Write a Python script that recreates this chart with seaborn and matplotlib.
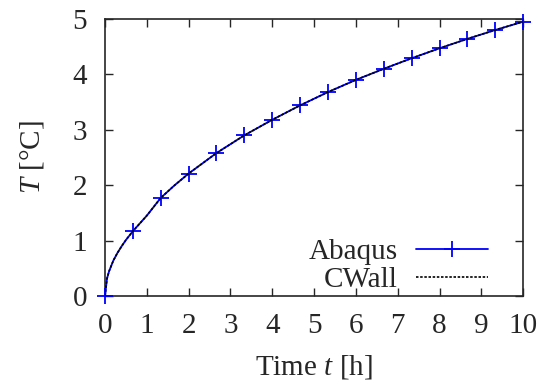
import matplotlib
matplotlib.use("Agg")
import matplotlib.pyplot as plt
import seaborn as sns
import pandas as pd

# Time samples (h) and temperatures (°C)
t_values = [0, 0.05, 0.1, 0.2, 0.3, 0.4, 0.5, 0.667, 1.0, 1.333, 1.667, 2.0, 2.667, 3.333, 4.0,
            4.667, 5.333, 6.0, 6.667, 7.333, 8.0, 8.667, 9.333, 10.0]
abaqus_T = [0, 0.32, 0.45, 0.64, 0.78, 0.90, 1.01, 1.17, 1.45, 1.77, 2.00, 2.21, 2.58, 2.90, 3.18,
            3.44, 3.68, 3.90, 4.10, 4.29, 4.47, 4.64, 4.80, 4.95]
cwall_T = [0, 0.32, 0.45, 0.64, 0.78, 0.90, 1.01, 1.17, 1.45, 1.77, 2.00, 2.21, 2.58, 2.90, 3.18,
           3.44, 3.68, 3.90, 4.10, 4.29, 4.47, 4.64, 4.80, 4.95]
# indices of the samples shown with markers (every 2/3 h)
marker_idx = [0, 7, 9, 11, 12, 13, 14, 15, 16, 17, 18, 19, 20, 21, 22, 23]

sns.set_style("ticks")
plt.rcParams['font.family'] = ['Liberation Serif', 'DejaVu Serif']
plt.rcParams['mathtext.fontset'] = 'custom'
plt.rcParams['mathtext.rm'] = 'Liberation Serif'
plt.rcParams['mathtext.it'] = 'Liberation Serif:italic'

FS = 21
fig = plt.figure(figsize=(5.41, 3.86), dpi=100)
ax = fig.add_axes([0.194, 0.233, 0.773, 0.718])

df_a = pd.DataFrame({"t": t_values, "T": abaqus_T})
df_c = pd.DataFrame({"t": t_values, "T": cwall_T})

sns.lineplot(data=df_a, x="t", y="T", ax=ax, color="#0000ff", lw=1.3,
             marker="+", markersize=11, markeredgewidth=1.3,
             markeredgecolor="#0000ff", markevery=marker_idx,
             label="Abaqus", clip_on=False, zorder=3, sort=False)
sns.lineplot(data=df_c, x="t", y="T", ax=ax, color="black", lw=1.2,
             linestyle=(0, (1.5, 1.0)), label="CWall", zorder=4, sort=False)

ax.set_xlim(0, 10)
ax.set_ylim(0, 5)
ax.set_xticks(range(0, 11))
ax.set_yticks(range(0, 6))
ax.tick_params(direction="in", length=6, width=1, top=True, right=True,
               labelsize=FS)
ax.tick_params(axis="x", pad=12)
ax.tick_params(axis="y", pad=13)
for s in ax.spines.values():
    s.set_linewidth(1.2)

ax.set_xlabel("Time $t$ [h]", fontsize=FS, labelpad=10)
ax.set_ylabel("$T$ [°C]", fontsize=FS, labelpad=19)

leg = ax.legend(loc="lower right", bbox_to_anchor=(0.945, -0.03),
                frameon=False, markerfirst=False,
                fontsize=FS, handlelength=2.5, borderaxespad=0.0,
                labelspacing=0.05, handletextpad=0.6)

fig.savefig("out.png", dpi=100)
